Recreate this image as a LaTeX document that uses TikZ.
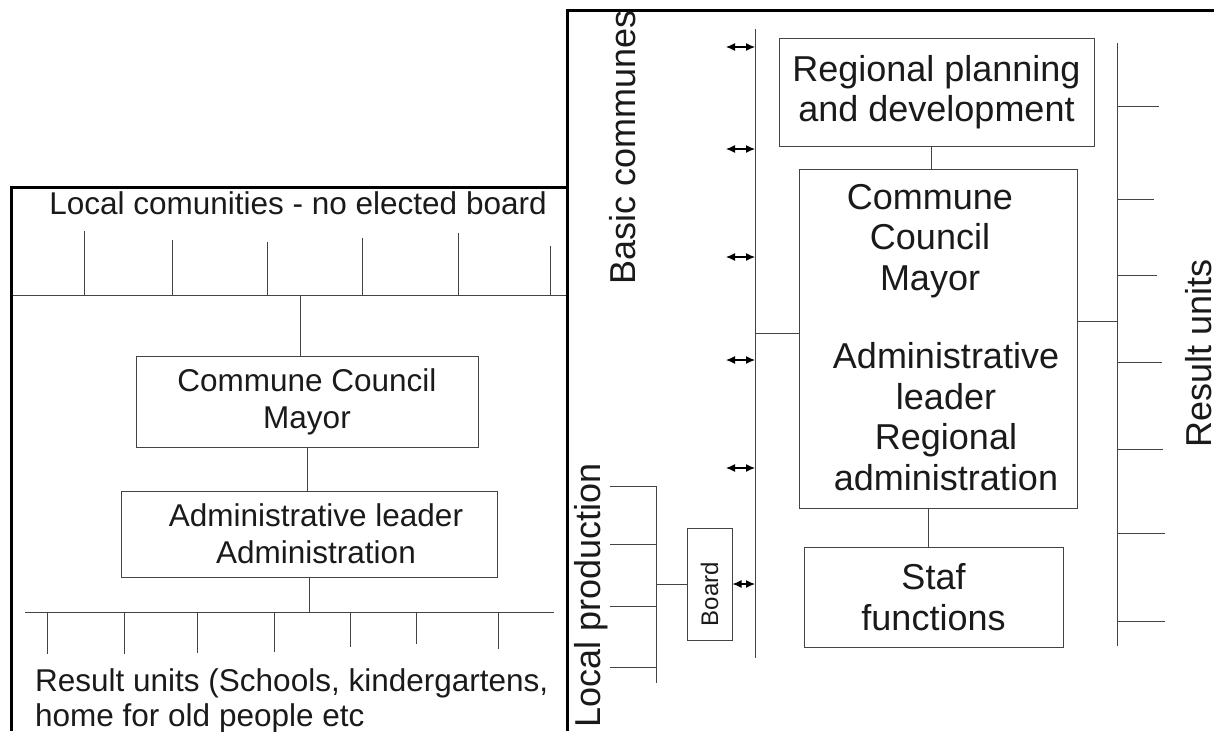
\documentclass[tikz,border=0pt]{standalone}
\usepackage{fontspec}
\setmainfont{Liberation Sans}
\usetikzlibrary{arrows.meta}
\definecolor{lncol}{HTML}{444444}
\definecolor{tx}{HTML}{1A1A1A}
\begin{document}
\begin{tikzpicture}[x=1pt,y=-1pt,
  frame/.style={line width=3pt,black},
  ln/.style={line width=1pt,draw=lncol},
  box/.style={draw=lncol,line width=1pt,inner sep=0pt,align=center,text=tx},
  tL/.style={font=\fontsize{31.5}{37}\selectfont,text=tx,inner sep=0pt,align=center},
  tR/.style={font=\fontsize{36}{40.5}\selectfont,text=tx,inner sep=0pt,align=center},
  tB/.style={font=\fontsize{24}{28}\selectfont,text=tx,inner sep=0pt},
  dbl/.style={draw=black,line width=1.2pt,{Latex[length=9pt,width=8pt]}-{Latex[length=9pt,width=8pt]}}]
\useasboundingbox (0,0) rectangle (1214,731);
% frames
\draw[frame] (11,731) -- (11,187) -- (567,187);
\draw[frame] (567,731) -- (567,10) -- (1214,10);
% ---------- left panel ----------
\node[tL,anchor=base] (lc) at (298,214) {Local comunities - no elected board};
\coordinate (hl) at (13,295);
\coordinate (hr) at (566,295);
\draw[ln] (hl) -- (hr);
\foreach \x/\t in {84/231,172/240,267/242,362/238,458/233,550/246}
  \draw[ln] (\x,\t) -- (\x,295);
\node[box,tL,minimum width=342pt,minimum height=91pt] (cc) at (307,401.5) {Commune Council\\Mayor};
\node[box,tL,minimum width=376pt,minimum height=86pt] (al) at (309,534) {\hspace*{14pt}Administrative leader\\\hspace*{14pt}Administration};
\coordinate (ctop) at (300,295);
\draw[ln] (ctop) -- (ctop |- cc.north);
\draw[ln] (cc.south) -- (cc.south |- al.north);
\coordinate (bl) at (25,612);
\coordinate (br) at (554,612);
\draw[ln] (bl) -- (br);
\draw[ln] (al.south) -- (al.south |- bl);
\foreach \x/\b in {47/654,124/654,197/653,274/652,350/647,416/644,498/649}
  \draw[ln] (\x,612) -- (\x,\b);
\node[tL,anchor=base west] (ru1) at (35,691) {Result units (Schools, kindergartens,};
\node[tL,anchor=base west] (ru2) at (35,726) {home for old people etc};
% ---------- right panel ----------
\node[tR,rotate=90,anchor=base west] (bc) at (635,285) {Basic communes};
\coordinate (vt) at (755,29);
\coordinate (vb) at (755,658);
\draw[ln] (vt) -- (vb);
\foreach \y in {47,149,257,360,468}{
  \coordinate (aL\y) at (726,\y);
  \coordinate (aR\y) at (755,\y);
  \draw[dbl] (aL\y) -- (aR\y);
}
\node[box,tR,minimum width=315pt,minimum height=108pt] (rp) at (936.5,92) {Regional planning\\and development};
\node[box,minimum width=278pt,minimum height=339pt] (cm) at (938,338.5) {};
\node[tR,anchor=base] (cmt1) at (930,290) {Commune\\Council\\Mayor};
\node[tR,anchor=base] (cmt2) at (946,490) {Administrative\\leader\\Regional\\administration};
\coordinate (x931) at (931,0);
\draw[ln] (rp.south -| x931) -- (cm.north -| x931);
\coordinate (lj) at (755,333);
\draw[ln] (lj) -- (lj -| cm.west);
\coordinate (rj) at (1117,321);
\draw[ln] (rj -| cm.east) -- (rj);
\node[box,tR,minimum width=259pt,minimum height=100pt] (sf) at (933.5,597) {Staf\\functions};
\coordinate (x928) at (928,0);
\draw[ln] (cm.south -| x928) -- (sf.north -| x928);
\coordinate (rvt) at (1117,43);
\coordinate (rvb) at (1117,646);
\draw[ln] (rvt) -- (rvb);
\foreach \y/\e in {106/1159,199/1154,275/1157,362/1162,449/1163,533/1165,621/1165}
  \draw[ln] (1117,\y) -- (\e,\y);
\node[tR,rotate=90,anchor=base west] (ru) at (1211,448) {Result units};
% local production
\node[tR,rotate=90,anchor=base west] (lp) at (600,728) {Local production};
\coordinate (bt) at (656,486);
\coordinate (bb) at (656,683);
\draw[ln] (bt) -- (bb);
\foreach \y in {486,544,606,667}
  \draw[ln] (610,\y) -- (656,\y);
\node[box,tB,rotate=90,minimum width=112pt,minimum height=45pt] (bd) at (709.5,584) {Board\hspace*{20pt}};
\coordinate (bj) at (656,584);
\draw[ln] (bj) -- (bd.north);
\coordinate (bjr) at (755,584);
\draw[dbl] (bd.south) -- (bjr);
\end{tikzpicture}
\end{document}
